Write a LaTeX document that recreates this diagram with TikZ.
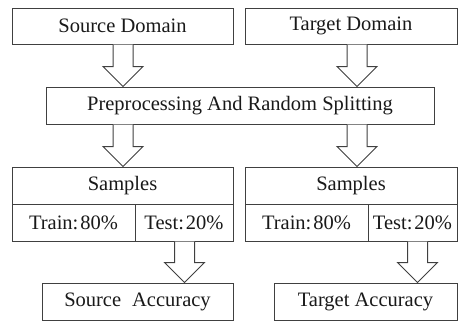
\documentclass[tikz,border=0pt]{standalone}
\usepackage{fontspec}
\setmainfont{Liberation Serif}
\usetikzlibrary{calc}

\tikzset{
  box/.style={draw=black!75, line width=1pt, rectangle, inner sep=0pt,
              font=\fontsize{20.5}{24}\selectfont, text=black!90},
  arrowline/.style={draw=black!75, line width=1pt, line join=miter, fill=white},
}

% hollow block arrow: #1 = x reference coordinate, #2 = upper node, #3 = lower node
\newcommand\blockarrow[3]{%
  \draw[arrowline]
    ([xshift=-10pt]#1 |- #2.south) --
    ([xshift=-10pt,yshift=20pt]#1 |- #3.north) --
    ([xshift=-20pt,yshift=20pt]#1 |- #3.north) --
    (#1 |- #3.north) --
    ([xshift=20pt,yshift=20pt]#1 |- #3.north) --
    ([xshift=10pt,yshift=20pt]#1 |- #3.north) --
    ([xshift=10pt]#1 |- #2.south);
}

\begin{document}
\begin{tikzpicture}[x=1pt, y=-1pt]
  \useasboundingbox (0,0) rectangle (459,324);

  % sources
  \node[box, minimum width=221pt, minimum height=36pt] (sd) at (122.5,26) {Source Domain};
  \node[box, minimum width=212pt, minimum height=36pt] (td) at (351,26) {Target Domain};

  % preprocessing
  \node[box, minimum width=388pt, minimum height=37pt] (pp) at (240,105.5) {Preprocessing And Random Splitting};

  % source samples
  \node[box, minimum width=221pt, minimum height=37pt] (sl)  at (122.5,185.5) {Samples};
  \node[box, minimum width=123pt, minimum height=37pt] (slt) at (73.5,222.5) {Train:\hspace{2pt}80\%};
  \node[box, minimum width=98pt,  minimum height=37pt] (sle) at (184,222.5) {Test:\hspace{2pt}20\%};

  % target samples
  \node[box, minimum width=212pt, minimum height=37pt] (sr)  at (351,185.5) {Samples};
  \node[box, minimum width=123pt, minimum height=37pt] (srt) at (306.5,222.5) {Train:\hspace{2pt}80\%};
  \node[box, minimum width=89pt,  minimum height=37pt] (sre) at (412.5,222.5) {Test:\hspace{2pt}20\%};

  % results
  \node[box, minimum width=191pt, minimum height=37pt] (sa) at (137.5,301.5) {Source\hspace{11pt}Accuracy};
  \node[box, minimum width=183pt, minimum height=37pt] (ta) at (365.5,301.5) {Target Accuracy};

  % arrow axes
  \coordinate (ax1) at (123,0);
  \coordinate (ax2) at (357,0);
  \coordinate (ax3) at (184.5,0);
  \coordinate (ax4) at (417.5,0);

  \blockarrow{ax1}{sd}{pp}
  \blockarrow{ax2}{td}{pp}
  \blockarrow{ax1}{pp}{sl}
  \blockarrow{ax2}{pp}{sr}
  \blockarrow{ax3}{sle}{sa}
  \blockarrow{ax4}{sre}{ta}
\end{tikzpicture}
\end{document}
